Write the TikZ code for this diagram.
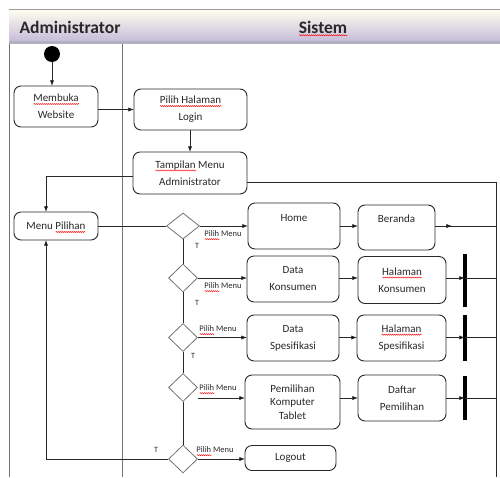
\documentclass[tikz,border=0pt]{standalone}
\usepackage{fontspec}
\setmainfont{Carlito}
\usepackage{tikz}
\usetikzlibrary{positioning}
\usetikzlibrary{shapes}
\usetikzlibrary{arrows.meta}
\usetikzlibrary{decorations.pathmorphing}

\definecolor{lavender}{RGB}{198,189,218}
\definecolor{abu}{RGB}{115,115,115}
\definecolor{tinta}{RGB}{40,40,40}

\newsavebox{\kotakkata}
\newcommand{\salah}[1]{\sbox{\kotakkata}{#1}\rlap{\smash{\tikz[baseline=0pt]\draw[red, sharp corners, line width=0.4pt, decorate, decoration={snake, amplitude=0.6pt, segment length=2pt}] (0pt,-2.2pt) -- (\the\wd\kotakkata,-2.2pt);}}\usebox{\kotakkata}}

\tikzset{aksi/.style={
		rectangle,
		rounded corners=7pt,
		draw=tinta,
		line width=0.9pt,
		inner sep = 0pt,
		outer sep = 0pt,
		align=center,
		text=tinta,
		font=\fontsize{11}{17}\selectfont,
		%		anchor=north,
	}
}
\tikzset{keputusan/.style={
		diamond,
		draw=abu,
		line width=0.8pt,
		inner sep = 0pt,
		minimum width=29pt,
		minimum height=28pt,
	}
}
\tikzset{sinkron/.style={
		rectangle,
		fill=black,
		inner sep = 0pt,
		minimum width=3.2pt,
	}
}
\tikzset{panah/.style={
		-{Latex[length=2mm]},
		line width=0.8pt,
		draw=tinta,
	},
}
\tikzset{alur/.style={
		draw=tinta,
		line width=0.8pt,
	}
}
\tikzset{pilih_menu/.style={
		text=tinta,
		inner sep=0pt,
		font=\fontsize{8.5}{10}\selectfont,
	}
}
\tikzset{cabang_t/.style={
		text=tinta,
		inner sep=0pt,
		font=\fontsize{8}{10}\selectfont,
	}
}

\begin{document}
\begin{tikzpicture}[x=1pt, y=-1pt]

\useasboundingbox (0,0) rectangle (500,477);

% header
\shade[top color=white!94!yellow, bottom color=lavender] (9,9) rectangle (500,41);
\fill[lavender!75!gray] (9,41) rectangle (500,44);
\draw[abu!70, line width=0.8pt] (9,9) -- (500,9);
\node[anchor=west, font=\bfseries\fontsize{17.5}{20}\selectfont, text=tinta] (aktor) at (16,27) {Administrator};
\node[font=\bfseries\fontsize{17.5}{20}\selectfont, text=tinta] (sistem) at (323,27) {\salah{Sistem}};

% lanes
\draw[abu, line width=0.9pt] (9,44) -- (9,477);
\draw[abu, line width=0.9pt] (122,44) -- (122,477);

% init
\node[circle, fill=black, inner sep=0pt, minimum size=16pt] (start) at (52,54) {};
\node[aksi, minimum width=84pt, minimum height=41pt] (membuka) at (56,106.5) {\salah{Membuka}\\Website};
\node[aksi, minimum width=113pt, minimum height=41pt] (pilihlogin) at (190.5,109.5) {\salah{Pilih Halaman}\\Login};
\node[aksi, minimum width=114pt, minimum height=42pt] (tampilan) at (190,173) {\salah{Tampilan} Menu\\Administrator};
\node[aksi, minimum width=84pt, minimum height=28pt] (menupilihan) at (56,226) {Menu \salah{Pilihan}};

% decisions
\node[keputusan, minimum width=33pt, minimum height=26pt] (d1) at (183,226) {};
\node[keputusan] (d2) at (183,278) {};
\node[keputusan] (d3) at (183,337.5) {};
\node[keputusan] (d4) at (183,387.5) {};
\node[keputusan] (d5) at (183,459) {};

% menu rows
\node[aksi, minimum width=92pt, minimum height=46pt] (home) at (294,226) {Home\\\phantom{H}};
\node[aksi, minimum width=77pt, minimum height=45pt] (beranda) at (396.5,227.5) {Beranda\\\phantom{B}};

\node[aksi, minimum width=92pt, minimum height=46pt] (datakons) at (293,279) {Data\\Konsumen};
\node[aksi, minimum width=88pt, minimum height=47pt] (halkons) at (402,280) {\salah{Halaman}\\Konsumen};
\node[sinkron, minimum height=53pt] (bar1) at (465,280.5) {};

\node[aksi, minimum width=92pt, minimum height=46pt] (dataspes) at (293,338) {Data\\Spesifikasi};
\node[aksi, minimum width=89pt, minimum height=46pt] (halspes) at (401.5,338) {\salah{Halaman}\\Spesifikasi};
\node[sinkron, minimum height=46pt] (bar2) at (465,338) {};

\node[aksi, minimum width=95pt, minimum height=54pt, font=\fontsize{11}{13.5}\selectfont] (pemilihan) at (292.5,402) {Pemilihan\\Komputer\\Tablet};
\node[aksi, minimum width=88pt, minimum height=46pt] (daftar) at (402,398) {Daftar\\Pemilihan};
\node[sinkron, minimum height=44pt] (bar3) at (465,398) {};

\node[aksi, minimum width=91pt, minimum height=25pt] (logout) at (290.5,458) {Logout};

\coordinate (kanan) at (496,182);
\coordinate (kananbawah) at (496,477);

% labels
\node[pilih_menu] (lp1) at (223,234) {\salah{Pilih} Menu};
\node[pilih_menu] (lp2) at (223,286) {\salah{Pilih} Menu};
\node[pilih_menu] (lp3) at (218,329) {\salah{Pilih} Menu};
\node[pilih_menu] (lp4) at (218,388) {\salah{Pilih} Menu};
\node[pilih_menu] (lp5) at (215,450) {\salah{Pilih} Menu};
\node[cabang_t] (t1) at (197,246) {T};
\node[cabang_t] (t2) at (197,303) {T};
\node[cabang_t] (t3) at (193,356) {T};
\node[cabang_t] (t4) at (156,450) {T};

% flow
\draw[panah] (start) -- (start |- membuka.north);
\draw[panah] (membuka.east |- pilihlogin.west) -- (pilihlogin.west);
\draw[panah] (pilihlogin.south -| tampilan.north) -- (tampilan.north);
\draw[panah] ([yshift=-3pt]tampilan.west) -| ([xshift=-10pt]menupilihan.north);
\draw[alur] ([yshift=-9pt]tampilan.east) -- ([yshift=-9pt]tampilan.east -| kanan) -- (kananbawah);

\draw[alur] (menupilihan) -- (d1);
\draw[alur] (d1) -- (d2) -- (d3) -- (d4) -- (d5);
\draw[panah] (d5.west) -| ([xshift=-10pt]menupilihan.south);

\draw[panah] (d1.east) -- (d1.east -| home.west);
\draw[panah] (home.east) -- (home.east -| beranda.west);
\draw[alur] (beranda.east |- home.east) -- (home.east -| kanan);
\draw[panah] (beranda.east |- home.east) -- ([xshift=17pt]beranda.east |- home.east);

\draw[panah] (d2.east) -- (d2.east -| datakons.west);
\draw[panah] (d2.east -| datakons.east) -- (d2.east -| halkons.west);
\draw[panah] (d2.east -| halkons.east) -- (d2.east -| bar1.center);
\draw[alur] (d2.east -| bar1.center) -- (d2.east -| kanan);

\draw[panah] (d3.east) -- (d3.east -| dataspes.west);
\draw[panah] (d3.east -| dataspes.east) -- (d3.east -| halspes.west);
\draw[panah] (d3.east -| halspes.east) -- (d3.east -| bar2.center);
\draw[alur] (d3.east -| bar2.center) -- (d3.east -| kanan);

\draw[panah] (d4.east |- daftar.west) -- (pemilihan.west |- daftar.west);
\draw[panah] (pemilihan.east |- daftar.west) -- (daftar.west);
\draw[panah] (daftar.east) -- (daftar.east -| bar3.center);
\draw[alur] (daftar.east -| bar3.center) -- (daftar.east -| kanan);

\draw[panah] (d5.east) -- (d5.east -| logout.west);

\end{tikzpicture}
\end{document}
